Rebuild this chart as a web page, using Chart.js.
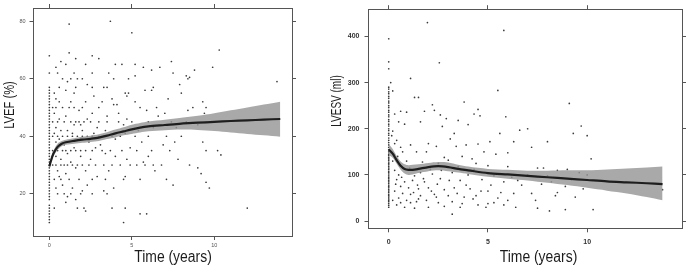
<!DOCTYPE html>
<html>
<head>
<meta charset="utf-8">
<script src="https://cdn.jsdelivr.net/npm/chart.js@4.4.1/dist/chart.umd.min.js"></script>
<style>
html,body{margin:0;padding:0;background:#fff;width:687px;height:268px;overflow:hidden}
.pane{position:absolute;top:0;height:268px}
#pl{left:0;width:340px}
#pr{left:326px;width:361px}
</style>
</head>
<body>
<div class="pane" id="pl"><canvas id="cl"></canvas></div>
<div class="pane" id="pr"><canvas id="cr"></canvas></div>
<script>
// ---------- tick labels ----------
const timeTicks = [0, 5, 10];
const lvefTicks = [20, 40, 60, 80];
const lvesvTicks = [0, 100, 200, 300, 400];

// ---------- LVEF panel ----------
const lvefBaseline = [10,11,12,13,14,15,16,18,19,20,21,22,23,24,25,26,27,28,29,30,31,32,33,34,35,36,37,38,39,40,41,42,43,44,45,46,47,48,49,50,51,52,53,54,55,56,57,62];
const lvefPoints = [
 [3.7,80],[1.2,79],[5.0,76],[10.3,70],[1.2,69],[0,68],[2.6,68],[3.0,67],[1.6,67],[0.7,66],[7.4,66],
 [2.2,65],[4.0,65],[4.4,65],[5.2,65],[1.0,65],[0.4,64],[5.7,64],[6.7,64],[9.9,64],[6.2,63],[8.8,63],
 [0.5,62],[1.5,62],[2.6,62],[3.6,62],[7.5,62],[8.3,61],[5.2,61],[8.5,60.5],
 [0.8,60],[1.3,60],[1.7,60],[2.0,60],[3.9,60],[4.8,60],[8.4,60],[13.8,59],[1.1,59],[2.3,58],[7.9,58],
 [0.6,57],[1.6,57],[2.6,57],[3.3,57],[3.5,57],[6.3,57],[1.0,56],[5.8,56],[6.2,56],
 [0.3,55],[1.5,55],[4.6,55],[4.8,55],[8.0,55],[2.7,54],[4.7,54],[0.4,53],[3.8,53],[7.2,53],
 [0.6,52],[1.3,52],[2.2,52],[3.2,52],[5.2,52],[9.3,52],[3.9,51],[4.1,51],
 [0.2,50],[0.4,50],[0.8,50],[1.2,50],[1.5,50],[2.0,50],[3.0,50],[5.5,50],[6.5,50],[8.7,50],[9.5,50],
 [1.8,49],[5.9,49],[8.4,49],[0.3,48],[2.6,48],[4.2,48],[7.0,48],[9.4,48],[1.0,47],[3.5,47],[6.6,47],
 [0.6,46],[2.3,46],[4.7,46],
 [0.2,45],[0.5,45],[0.9,45],[1.3,45],[1.6,45],[1.8,45],[2.1,45],[2.5,45],[3.0,45],[3.5,45],[4.2,45],[5.0,45],[6.0,45],[7.4,45],[8.3,45],[9.5,45],
 [1.5,44],[1.9,44],[4.5,44],[9.0,44],[0.4,43],[2.9,43],[6.3,43],[7.7,43],
 [0.7,42],[1.1,42],[2.0,42],[3.4,42],[5.4,42],[0.3,41],[1.4,41],[2.7,41],[4.6,41],
 [0.2,40],[0.5,40],[0.8,40],[1.1,40],[1.4,40],[1.7,40],[2.0,40],[2.3,40],[2.6,40],[3.0,40],[3.3,40],[3.8,40],[4.3,40],[5.2,40],[6.0,40],[7.1,40],[8.0,40],
 [0.6,39],[1.9,39],[4.0,39],[0.4,38],[1.2,38],[2.4,38],[5.6,38],[7.6,38],[9.3,38],[0.9,37],[3.1,37],[6.9,37],
 [0.5,36],[1.5,36],[2.8,36],[4.9,36],
 [0.2,35],[0.5,35],[0.8,35],[1.0,35],[1.3,35],[1.6,35],[1.9,35],[2.2,35],[2.6,35],[3.2,35],[3.7,35],[4.4,35],[5.3,35],[6.2,35],[7.3,35],[9.5,35],[10.2,35],
 [1.1,34],[3.4,34],[10.4,33.5],[0.4,33],[1.9,33],[4.0,33],[6.0,33],[0.7,32],[2.5,32],[4.7,32],[7.8,32],[1.3,31],[5.7,31],
 [0.2,30],[0.4,30],[0.7,30],[0.9,30],[1.1,30],[1.4,30],[1.7,30],[2.0,30],[2.4,30],[2.8,30],[3.3,30],[3.8,30],[4.3,30],[4.9,30],[5.3,30],[5.8,30],[6.3,30],[6.8,30],[8.5,30],
 [1.6,29],[9.0,29],[0.5,28],[2.2,28],[3.6,28],[6.4,28],[1.0,27],[9.2,27],[0.6,26],[2.9,26],[4.6,26],
 [0.3,25],[0.7,25],[1.2,25],[1.8,25],[2.6,25],[3.4,25],[4.5,25],[5.5,25],[7.1,25],[9.5,24],
 [0.8,23],[2.3,23],[7.5,23],[0.4,22],[1.4,22],[3.9,22],[9.7,22],[3.3,21],[2.0,21],
 [0.5,20],[0.9,20],[1.3,20],[1.9,20],[2.6,20],[3.5,20],[1.1,19],[1.6,18],[1.0,17],
 [0.3,15],[1.7,15],[2.1,15],[3.8,15],[4.6,15],[12.0,15],[2.2,14],[5.5,13],[5.9,13],[4.5,10]
];
const lvefFitTime = [0,0.1,0.25,0.5,0.75,1,1.5,2,2.5,3,3.5,4,4.5,5,5.5,6,7,8,9,10,11,12,13,14];
const lvefFit     = [29.5,31.5,34,36.3,37.4,37.9,38.4,38.8,39.1,39.5,40.2,41,41.7,42.4,43,43.4,43.9,44.4,44.7,45,45.3,45.5,45.8,46];
const lvefLower   = [28.5,30.5,33,35.2,36.5,37,37.4,37.7,38,38.3,39,39.6,40.3,40.8,41.3,41.7,42.1,42.3,42.2,41.8,41.3,40.8,40.3,39.8];
const lvefUpper   = [30.5,32.5,35,37.4,38.3,38.8,39.3,39.8,40.2,40.7,41.4,42.3,43.1,44,44.6,45.1,45.7,46.4,47.1,48,49,50,51,52];

// ---------- LVESV panel ----------
const lvesvBaseline = [30,34,38,42,45,48,52,55,58,62,65,68,72,75,78,82,85,88,92,95,98,102,105,108,112,115,118,122,125,128,132,135,138,142,145,150,155,160,165,170,175,180,186,190,196,200,206,210,216,220,226,230,236,240,246,250,256,260,266,270,276,280,286,290];
const lvesvPoints = [
 [1.95,430],[5.8,413],[0,395],[2.55,343],[0,345],[0,330],[0.1,300],[1.1,309],[5.5,283],[9.1,255],[3.8,258],
 [1.3,268],[1.5,268],[2.2,252],[4.5,242],[4.3,232],[2.6,230],[2.9,222],[0.2,282],[0.3,232],[0.6,238],[0.9,236],
 [1.8,238],[2.3,240],[3.5,218],[4.6,228],[5.9,226],[0.5,215],[0.8,210],[1.6,215],[2.7,205],[3.3,190],[4.0,209],
 [6.6,197],[7.0,200],[5.6,190],[9.3,190],[9.7,206],[10.0,185],[8.0,172],[7.2,160],[10.2,135],[6.0,148],[5.1,172],
 [4.5,167],[3.9,165],[3.1,178],[2.0,168],[1.1,165],[0.6,160],[0.4,175],[0.2,195],[0.15,185],[0.3,168],[0.7,150],
 [1.4,150],[2.4,162],[3.4,162],[4.8,150],[5.4,145],[6.3,172],[1.9,150],[3.7,140],[4.2,135],[2.8,138],[0.9,130],
 [1.7,128],[2.5,125],[3.0,132],[4.4,125],[5.0,120],[6.0,118],[7.5,115],[8.5,110],[9.6,105],[10.0,100],[7.0,100],
 [6.2,95],[5.3,98],[4.0,100],[3.2,105],[2.2,102],[1.3,98],[0.5,100],[0.3,110],[0.4,90],[0.8,85],[1.2,88],[1.8,85],
 [2.6,92],[3.6,88],[4.7,90],[5.8,85],[6.7,78],[7.7,80],[8.9,75],[9.8,70],[0.6,75],[1.0,72],[1.5,70],[2.0,72],
 [2.8,68],[3.3,72],[4.1,70],[5.0,65],[6.3,60],[7.2,60],[8.4,55],[9.4,52],[0.3,65],[0.7,60],[1.1,58],[1.6,55],
 [2.3,58],[3.0,55],[3.8,52],[4.4,55],[5.5,50],[8.5,62],[0.5,50],[0.9,45],[1.4,42],[1.9,45],[2.5,40],[3.2,42],
 [3.7,38],[4.5,35],[5.0,38],[5.8,35],[6.4,30],[7.5,28],[8.1,22],[8.9,25],[10.3,25],[0.4,35],[0.8,30],[1.3,28],
 [2.0,30],[2.8,32],[3.6,30],[4.9,30],[5.3,40],[6.0,45],[1.1,40],[3.2,15],[1.5,48],[2.4,52],[0.2,45],[0.6,40],
 [0.2,130],[0.25,145],[0.45,140],[1.6,105],[2.1,112],[3.5,118],[4.3,112],[9.0,112],[8.0,98],[7.8,115],[13.8,68],
 [0.55,120],[0.35,80],[0.65,95],[1.05,115],[1.25,62],[1.45,78],[1.75,92],[2.15,65],[2.45,80],[2.65,110],[3.05,88],
 [3.45,60],[3.9,78],[4.25,48],[4.65,65],[5.15,78],[5.65,62],[6.5,88],[7.4,45],[8.2,85],[9.2,90]
];
const lvesvFitTime = [0,0.2,0.4,0.6,0.8,1,1.2,1.5,2,2.5,3,3.5,4,5,6,7,8,9,10,11,12,13,13.8];
const lvesvFit     = [155,146,132,120,113,111,111,113,117,119,117,113,110,104,101,98,95,92,89,86,84,82,80];
const lvesvLower   = [143,137,124,111,103,100,101,104,108,110,108,105,102,96,92,88,83,78,72,66,60,52,45];
const lvesvUpper   = [167,156,141,129,123,121,122,123,126,128,127,122,118,113,111,109,109,110,110,112,114,116,118];

// ---------- helpers ----------
const toXY = (xs, ys) => xs.map((x, i) => ({x, y: ys[i]}));
const pairs = arr => arr.map(p => ({x: p[0], y: p[1]}));
const base = ys => ys.map(y => ({x: 0, y}));

const titlePlugin = {
  id: 'titles',
  afterDraw(chart, args, o) {
    const ctx = chart.ctx;
    ctx.save();
    ctx.fillStyle = '#1c1c1c';
    ctx.textAlign = 'center';
    ctx.textBaseline = 'alphabetic';
    ctx.save();
    ctx.font = o.xFont;
    ctx.translate(o.xX, o.xY);
    ctx.scale(o.xScale, 1);
    ctx.fillText(o.xTitle, 0, 0);
    ctx.restore();
    ctx.font = o.yFont;
    ctx.translate(o.yX, o.yY);
    ctx.rotate(-Math.PI / 2);
    ctx.scale(o.yScale, 1);
    ctx.fillText(o.yTitle, 0, 0);
    ctx.restore();
  }
};

function build(canvasId, p) {
  const fixTicks = vals => s => { s.ticks = vals.map(v => ({value: v})); };
  const frame = {color: '#555', width: 1};
  const gridT = {drawOnChartArea: false, tickLength: 4, color: '#555', lineWidth: 1};
  return new Chart(document.getElementById(canvasId), {
    type: 'scatter',
    data: {
      datasets: [
        {type: 'line', data: toXY(p.fitTime, p.fit), borderColor: '#1e1e1e', borderWidth: 2.2,
         pointRadius: 0, tension: 0.3, fill: false, order: 1},
        {type: 'line', data: toXY(p.fitTime, p.lower), borderWidth: 0, borderColor: 'rgba(0,0,0,0)',
         pointRadius: 0, tension: 0.3, fill: false, order: 2},
        {type: 'line', data: toXY(p.fitTime, p.upper), borderWidth: 0, borderColor: 'rgba(0,0,0,0)',
         pointRadius: 0, tension: 0.3, fill: '-1', backgroundColor: 'rgba(150,150,150,0.82)', order: 2},
        {data: pairs(p.points).concat(base(p.baseline)), pointRadius: p.dot, pointBorderWidth: 0,
         pointBackgroundColor: '#3a3a3a', order: 3}
      ]
    },
    options: {
      responsive: true, maintainAspectRatio: false, animation: false,
      events: [],
      layout: {padding: 0},
      plugins: {legend: {display: false}, tooltip: {enabled: false}, titles: p.titles},
      scales: {
        x: {type: 'linear', position: 'bottom', min: p.xmin, max: p.xmax,
            afterBuildTicks: fixTicks(timeTicks), afterFit: s => { s.height = p.bottom; },
            ticks: {font: p.tickFont, color: p.tickColor, padding: p.xPad, maxRotation: 0, autoSkip: false},
            grid: gridT, border: frame},
        xTop: {type: 'linear', position: 'top', min: p.xmin, max: p.xmax,
            afterBuildTicks: fixTicks(timeTicks), afterFit: s => { s.height = p.top; },
            ticks: {display: false}, grid: gridT, border: frame},
        y: {type: 'linear', position: 'left', min: p.ymin, max: p.ymax,
            afterBuildTicks: fixTicks(p.yTicks), afterFit: s => { s.width = p.left; },
            ticks: {font: p.tickFont, color: p.tickColor, padding: p.yPad, autoSkip: false},
            grid: gridT, border: frame},
        yRight: {type: 'linear', position: 'right', min: p.ymin, max: p.ymax,
            afterBuildTicks: fixTicks(p.yTicks), afterFit: s => { s.width = p.right; },
            ticks: {display: false}, grid: gridT, border: frame}
      }
    },
    plugins: [titlePlugin]
  });
}

const xTitleFont = '16px "Liberation Sans", Arial, sans-serif';
const yTitleFont = '14.5px "Liberation Sans", Arial, sans-serif';

build('cl', {
  points: lvefPoints, baseline: lvefBaseline,
  fitTime: lvefFitTime, fit: lvefFit, lower: lvefLower, upper: lvefUpper,
  yTicks: lvefTicks, xmin: -0.96, xmax: 14.71, ymin: 5.3, ymax: 84.6,
  left: 33.5, right: 48, top: 8, bottom: 32, dot: 0.85,
  tickFont: {family: '"Liberation Sans", Arial, sans-serif', size: 5.5}, tickColor: '#555',
  xPad: 2, yPad: 4,
  titles: {xFont: xTitleFont, yFont: yTitleFont, xTitle: 'Time (years)', xX: 173, xY: 262, xScale: 0.87,
           yTitle: 'LVEF (%)', yX: 13.5, yY: 105, yScale: 0.77}
});

build('cr', {
  points: lvesvPoints, baseline: lvesvBaseline,
  fitTime: lvesvFitTime, fit: lvesvFit, lower: lvesvLower, upper: lvesvUpper,
  yTicks: lvesvTicks, xmin: -1.02, xmax: 14.78, ymin: -15.6, ymax: 459,
  left: 42.5, right: 5, top: 5.7, bottom: 39.7, dot: 0.85,
  tickFont: {family: '"Liberation Sans", Arial, sans-serif', size: 7, weight: 'bold'}, tickColor: '#333',
  xPad: 6, yPad: 5,
  titles: {xFont: xTitleFont, yFont: yTitleFont, xTitle: 'Time (years)', xX: 212.5, xY: 262, xScale: 0.87,
           yTitle: 'LVESV (ml)', yX: 14.5, yY: 101, yScale: 0.69}
});
</script>
</body>
</html>
